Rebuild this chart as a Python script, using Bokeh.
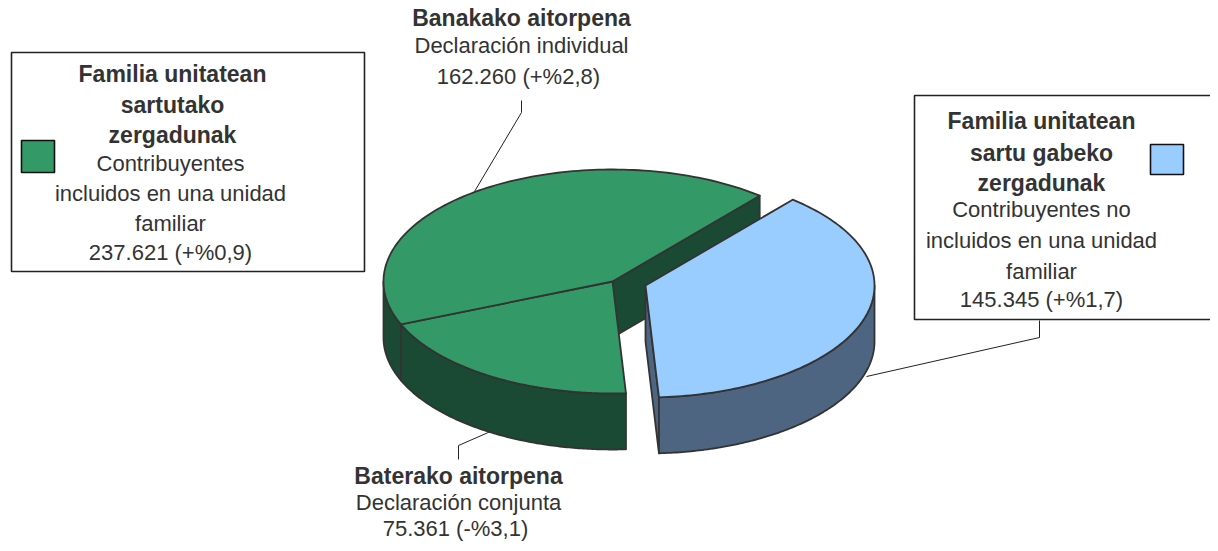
import numpy as np
from bokeh.plotting import figure
from bokeh.models import Range1d
from bokeh.core.properties import value
from bokeh.embed import file_html
from bokeh.resources import INLINE

# Slices clockwise from the start angle
slice_names = ["Familia unitatean sartu gabeko", "Baterako aitorpena", "Banakako aitorpena"]
slice_values = [145345, 75361, 162260]
START_DEG = 50.0

GREEN, GREEN_DARK = "#339966", "#1A4A33"
BLUE, BLUE_DARK = "#99CCFF", "#4D6580"
EDGE = "#333333"
TEXT = "#333333"

p = figure(width=1210, height=543, output_backend="svg", toolbar_location=None,
           x_range=Range1d(0, 1210), y_range=Range1d(543, 0), min_border=0,
           x_axis_type="linear", background_fill_color="white", border_fill_color="white")
p.axis.visible = False
p.grid.visible = False
p.outline_line_color = None
p.styles = {"margin-bottom": "-16px", "margin-right": "-8px"}

angles = 360.0 * np.array(slice_values, dtype=float) / float(sum(slice_values))
edges = START_DEG - np.concatenate([[0.0], np.cumsum(angles)])  # clockwise

RX, RY, DEPTH = 229.0, 112.0, 56.0
C_GREEN = (612.0, 281.0)
C_BLUE = (645.0, 285.0)


def arc(c, t0, t1, n=120):
    t = np.radians(np.linspace(t0, t1, n))
    return c[0] + RX * np.cos(t), c[1] - RY * np.sin(t)


def point(c, t):
    return c[0] + RX * np.cos(np.radians(t)), c[1] - RY * np.sin(np.radians(t))


def draw(xs, ys, fill, width=1.8):
    p.patch(list(xs), list(ys), fill_color=fill, line_color=EDGE, line_width=width, line_join="round")


def rim(c, t0, t1, fill):
    x, y = arc(c, t0, t1)
    draw(np.concatenate([x, x[::-1]]), np.concatenate([y, y[::-1] + DEPTH]), fill)


def cut_wall(c, t, fill):
    x, y = point(c, t)
    draw([c[0], x, x, c[0]], [c[1], y, y + DEPTH, c[1] + DEPTH], fill)


def wedge(c, t0, t1, fill):
    x, y = arc(c, t0, t1)
    draw(np.concatenate([[c[0]], x]), np.concatenate([[c[1]], y]), fill)


# leader lines
p.line([521, 521, 474], [100, 112, 191], line_color="#222222", line_width=1)
p.line([458, 458, 490], [459, 445, 431], line_color="#222222", line_width=1)
p.line([1039, 1039, 866], [320, 337, 376], line_color="#222222", line_width=1)

# label boxes
p.quad(left=[11], right=[364], top=[52], bottom=[271], fill_color="white", line_color="#222222", line_width=1.6)
p.quad(left=[914], right=[1235], top=[95], bottom=[319], fill_color="white", line_color="#222222", line_width=1.6)
p.quad(left=[21], right=[54], top=[140], bottom=[172], fill_color=GREEN, line_color="#111111", line_width=1.6)
p.quad(left=[1150], right=[1183], top=[144], bottom=[174], fill_color=BLUE, line_color="#111111", line_width=1.6)

# green slices
cut_wall(C_GREEN, edges[0], GREEN_DARK)
rim(C_GREEN, 180.0, edges[2] + 360.0, GREEN_DARK)
rim(C_GREEN, edges[2], edges[1], GREEN_DARK)
wedge(C_GREEN, edges[1], edges[2], GREEN)
wedge(C_GREEN, edges[2], edges[3], GREEN)

# blue slice, pulled out
cut_wall(C_BLUE, edges[1], BLUE_DARK)
rim(C_BLUE, edges[1], 0.0, BLUE_DARK)
wedge(C_BLUE, edges[0], edges[1], BLUE)

# texts
label_x = [172, 172, 172, 170, 170, 170, 170,
           1041, 1041, 1041, 1041, 1041, 1041, 1041,
           521, 521, 521,
           458, 458, 458]
label_y = [73, 104, 134, 163, 193, 223, 252,
           120, 152, 182, 209, 240, 271, 299,
           17, 45, 76,
           475, 502, 528]
label_text = ["Familia unitatean", "sartutako", "zergadunak", "Contribuyentes",
              "incluidos en una unidad", "familiar", "237.621 (+%0,9)",
              "Familia unitatean", "sartu gabeko", "zergadunak", "Contribuyentes no",
              "incluidos en una unidad", "familiar", "145.345 (+%1,7)",
              "Banakako aitorpena", "Declaración individual", "162.260  (+%2,8)",
              "Baterako aitorpena", "Declaración conjunta", "75.361  (-%3,1)"]
label_bold = [1, 1, 1, 0, 0, 0, 0,
              1, 1, 1, 0, 0, 0, 0,
              1, 0, 0,
              1, 0, 0]

for want_bold in (0, 1):
    idx = [i for i, b in enumerate(label_bold) if b == want_bold]
    p.text([label_x[i] for i in idx], [label_y[i] for i in idx], text=[label_text[i] for i in idx],
           text_font=value("Liberation Sans"), text_font_size="23px" if want_bold else "22px",
           text_font_style="bold" if want_bold else "normal",
           text_color=TEXT, text_align="center", text_baseline="middle")

open("out.html", "w").write(file_html(p, INLINE))
